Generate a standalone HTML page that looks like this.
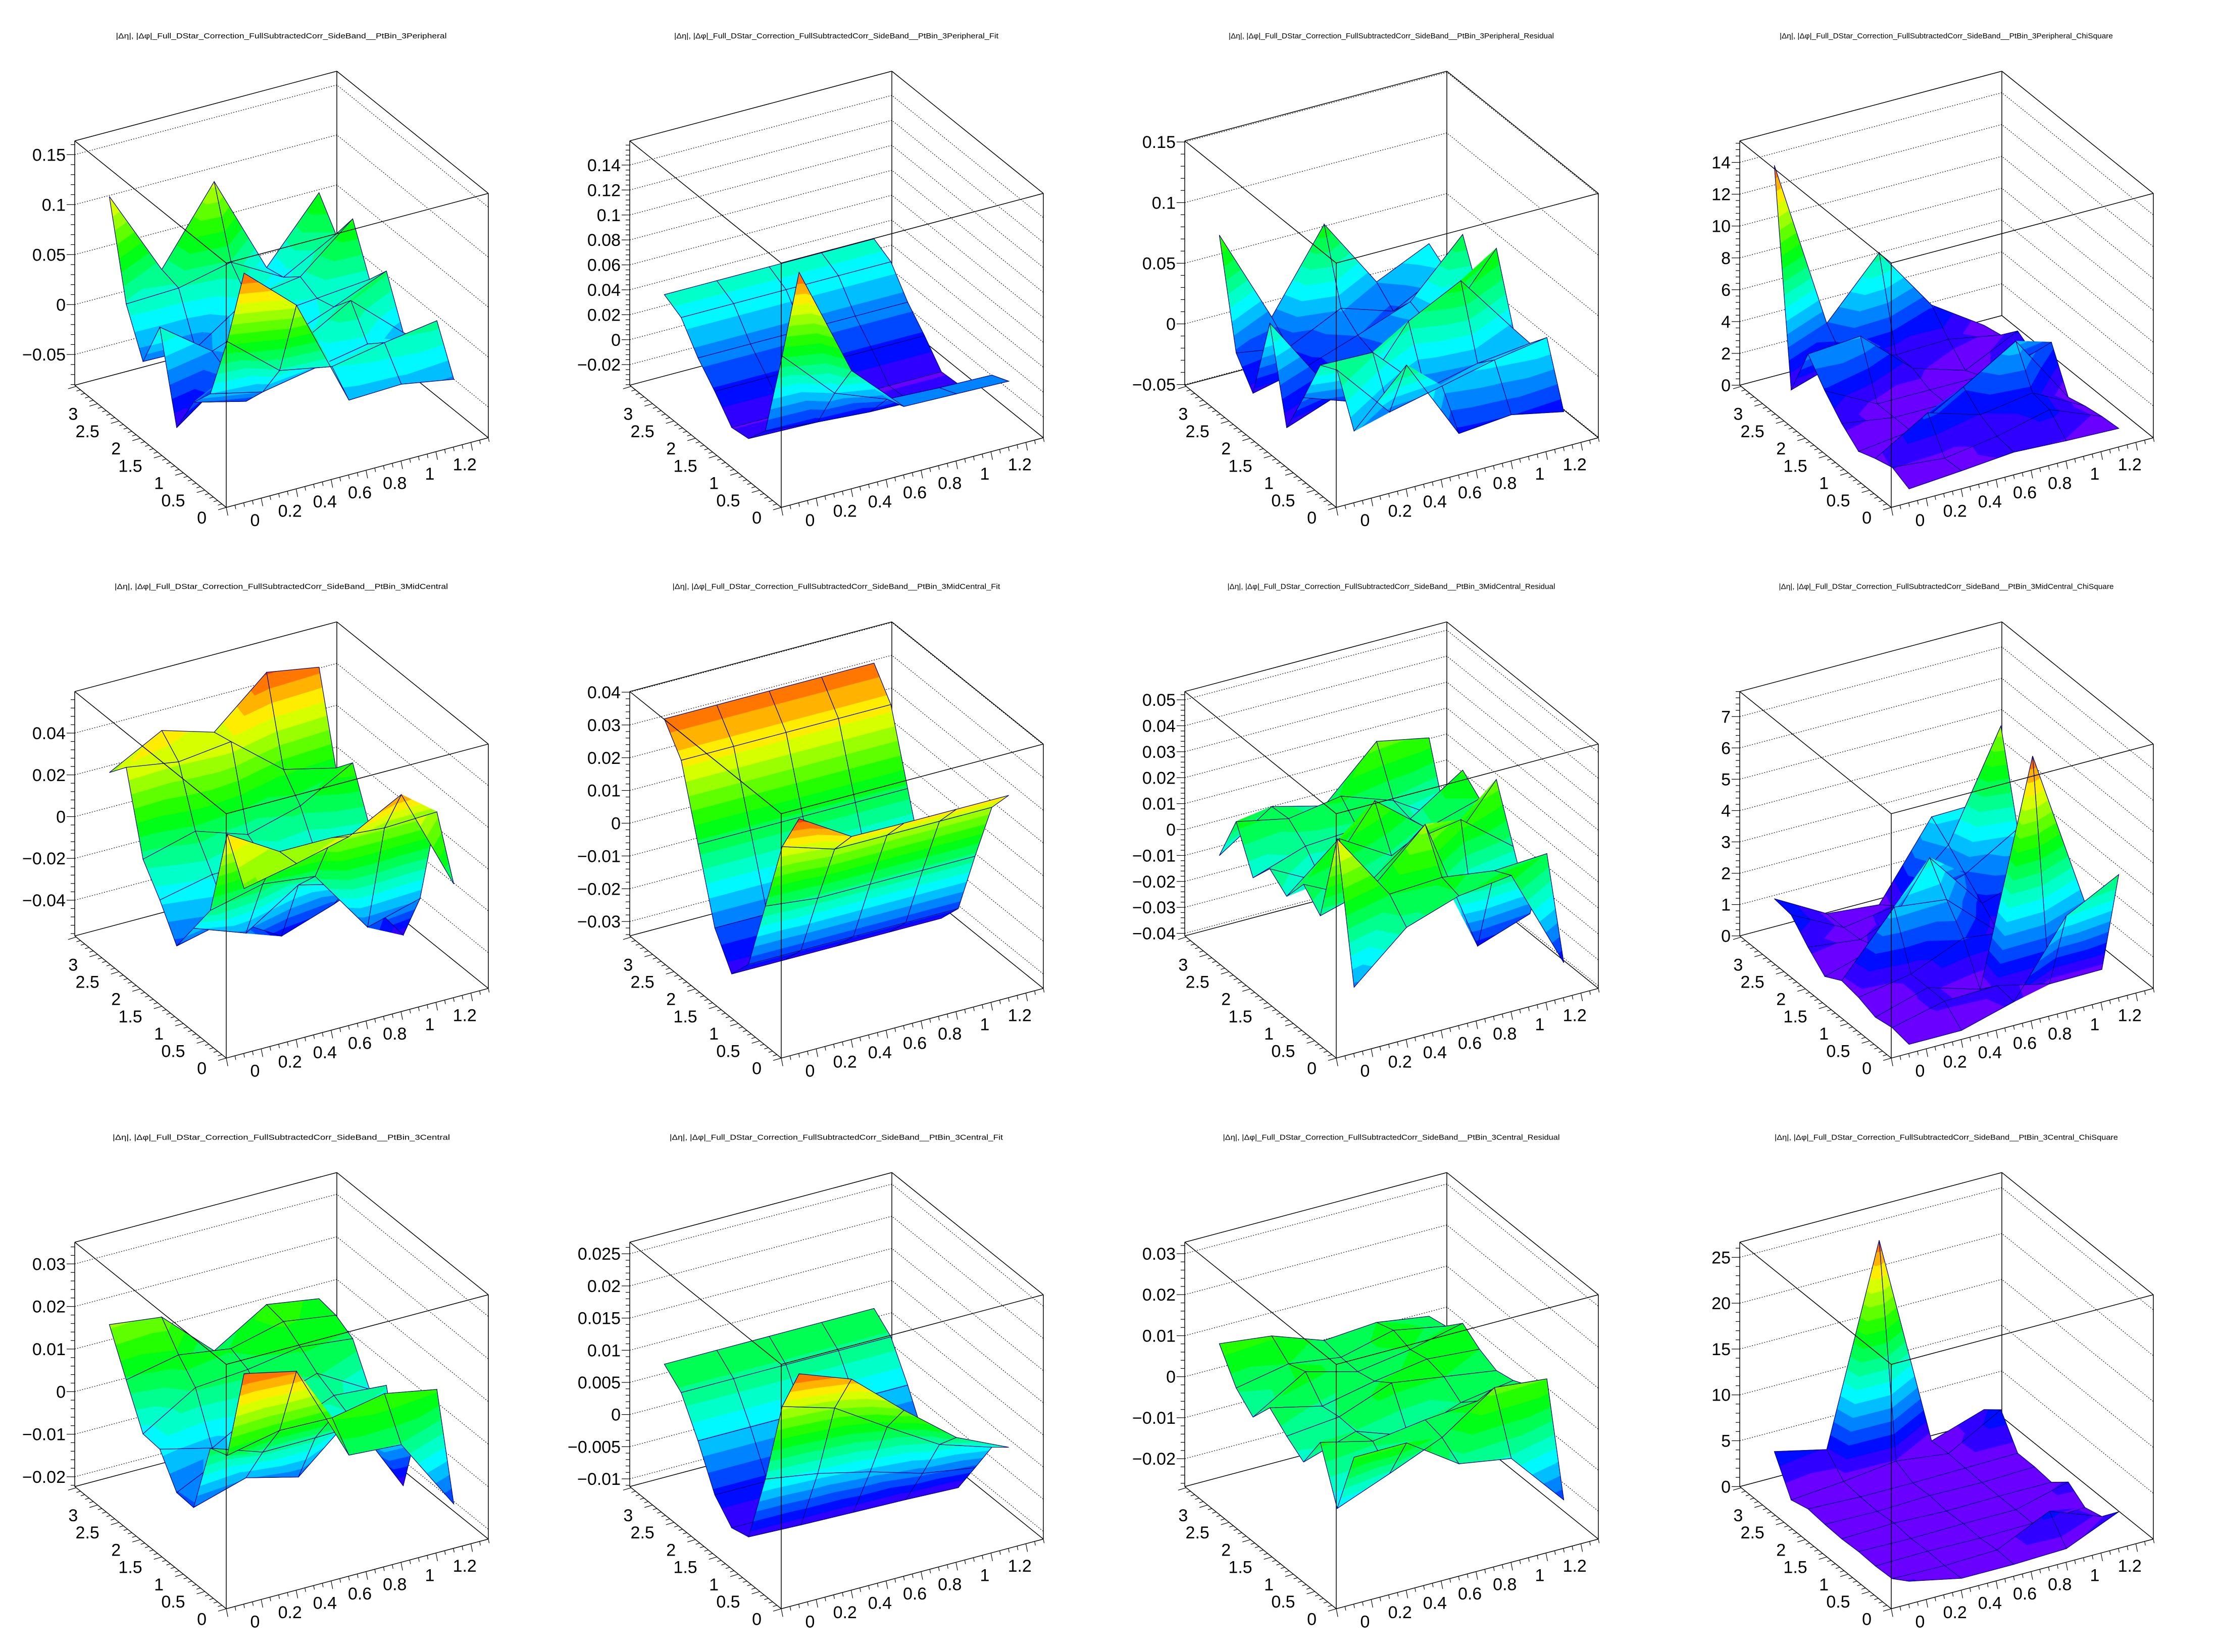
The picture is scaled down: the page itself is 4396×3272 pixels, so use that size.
<!DOCTYPE html>
<html>
<head>
<meta charset="utf-8">
<style>
html,body{margin:0;padding:0;background:#fff}
svg{display:block}
text{font-family:"Liberation Sans",sans-serif;fill:#000}
</style>
</head>
<body>
<svg id="chart" width="4396" height="3272" viewBox="0 0 4396 3272" xmlns="http://www.w3.org/2000/svg">
<rect width="4396" height="3272" fill="#ffffff"/>
</svg>
<script>
// ---------- data ----------
const xCenters=[0.15,0.45,0.75,1.05,1.35];
const yCenters=[0.196,0.589,0.982,1.374,1.767,2.160,2.553,2.945,3.338];
const xTickValues=[0,0.2,0.4,0.6,0.8,1.0,1.2];
const xTickLabels=['0','0.2','0.4','0.6','0.8','1','1.2'];
const yTickValues=[0,0.5,1,1.5,2,2.5,3];
const yTickLabels=['0','0.5','1','1.5','2','2.5','3'];
const titlePrefix='|\u0394\u03b7|, |\u0394\u03c6|_Full_DStar_Correction_FullSubtractedCorr_SideBand__PtBin_3';
const panelTitles=['Peripheral','Peripheral_Fit','Peripheral_Residual','Peripheral_ChiSquare',
 'MidCentral','MidCentral_Fit','MidCentral_Residual','MidCentral_ChiSquare',
 'Central','Central_Fit','Central_Residual','Central_ChiSquare'];
const panelZMin=[-0.0807,-0.0365,-0.0506,0,-0.0571,-0.0344,-0.041,0,-0.0223,-0.0112,-0.0268,0];
const panelZMax=[0.1638,0.1594,0.1509,15.35,0.0599,0.0402,0.0532,7.8,0.0351,0.0268,0.0328,26.65];
const panelZStep=[0.05,0.02,0.05,2,0.02,0.01,0.01,1,0.01,0.005,0.01,5];

const p1Values=[
[0.140,0.094,-0.015,-0.013,-0.022],
[0.058,0.015,0.005,0.015,0.023],
[-0.008,-0.020,-0.010,0.000,-0.010],
[-0.030,-0.043,0.000,0.030,-0.016],
[-0.069,-0.030,-0.010,0.010,0.032],
[0.018,-0.020,0.000,0.005,0.010],
[-0.030,-0.031,0.005,0.013,0.057],
[0.014,0.016,0.028,-0.001,0.028],
[0.108,0.021,0.095,-0.005,0.056]];
const p2Values=[
[0.141,0.051,0.011,0.010,0.009],
[0.063,0.022,0.006,0.004,0.003],
[-0.008,-0.012,-0.015,-0.016,-0.016],
[-0.025,-0.026,-0.026,-0.026,-0.026],
[-0.027,-0.027,-0.027,-0.027,-0.027],
[-0.009,-0.009,-0.009,-0.009,-0.009],
[0.007,0.007,0.007,0.007,0.007],
[0.0285,0.0285,0.0285,0.0285,0.0285],
[0.036,0.036,0.036,0.036,0.036]];
const p3Values=[
[0.001,0.044,-0.024,-0.020,-0.029],
[0.040,-0.006,0.004,0.014,0.021],
[0.033,0.032,-0.010,0.000,0.005],
[-0.005,-0.020,0.035,0.057,0.006],
[-0.041,-0.025,-0.010,0.010,0.061],
[0.034,-0.025,-0.015,0.000,0.010],
[-0.035,-0.025,-0.010,0.006,0.050],
[-0.013,-0.020,0.001,-0.013,0.010],
[0.073,-0.006,0.059,0.000,0.020]];
const p4Values=[
[0.3,0.56,0.86,0.7,0.6],
[0.8,0.5,1.0,1.8,0.5],
[0.5,2.5,1.5,2.0,0.3],
[0.1,0.5,2.4,4.4,0.0],
[1.0,0.5,0.5,1.5,2.6],
[2.2,0.5,0.5,0.5,0.9],
[3.65,3.9,1.0,0.0,1.6],
[0.55,1.6,1.0,1.1,0.5],
[13.8,3.0,6.56,2.4,0.25]];
const p5Values=[
[0.0175,0.0228,0.029,0.0425,-0.007],
[0.037,0.022,0.022,0.020,0.021],
[-0.006,0.000,-0.003,-0.034,-0.027],
[-0.021,-0.030,-0.0136,-0.020,-0.051],
[-0.036,-0.030,-0.0446,-0.036,-0.025],
[-0.0205,-0.015,-0.015,-0.020,-0.012],
[-0.0075,-0.0007,-0.009,-0.002,0.012],
[0.030,0.026,0.029,0.009,0.003],
[0.021,0.0345,0.027,0.049,0.0448]];
const p6Values=[
[0.0345,0.0248,0.0246,0.0246,0.0246],
[0.0218,0.0168,0.0168,0.0168,0.0168],
[-0.0005,-0.0023,-0.0023,-0.0023,-0.0023],
[-0.0224,-0.0224,-0.0224,-0.0224,-0.0224],
[-0.0295,-0.0295,-0.0295,-0.0295,-0.0295],
[-0.0196,-0.0196,-0.0196,-0.0196,-0.0196],
[0.0018,0.0018,0.0018,0.0018,0.0018],
[0.0233,0.0233,0.0233,0.0233,0.0233],
[0.0318,0.0318,0.0318,0.0318,0.0318]];
const p7Values=[
[-0.019,-0.0013,0.0055,0.008,-0.031],
[0.033,0.0063,0.0074,0.0046,0.0058],
[-0.0019,0.0038,0.0226,-0.0297,-0.0226],
[0.005,-0.005,0.0103,0.0138,-0.0019],
[-0.0049,0.012,0.000,-0.005,0.0187],
[0.0005,-0.010,0.016,0.000,0.006],
[-0.0082,-0.0014,0.000,-0.0016,0.0118],
[0.0082,0.004,0.0073,0.0002,-0.0125],
[-0.0101,0.0034,-0.0017,0.0178,0.0138]];
const p8Values=[
[0.0,0.0,0.47,2.77,3.64],
[0.1,0.5,0.55,0.16,0.18],
[0.0,0.5,0.0,7.0,1.87],
[0.2,0.5,1.2,1.0,1.0],
[0.3,2.2,2.0,0.5,0.3],
[0.0,0.5,2.9,1.0,1.5],
[0.5,0.3,1.0,1.5,2.5],
[1.1,0.25,0.5,2.0,5.35],
[1.18,0.26,0.1,2.46,2.5]];
const p9Values=[
[0.0297,0.027,0.004,0.0032,-0.014],
[0.0073,0.0099,0.0096,0.012,0.0097],
[0.0058,0.0016,0.0017,0.002,0.000],
[-0.0113,-0.0076,-0.0107,0.000,-0.0193],
[-0.011,-0.005,-0.003,0.002,0.0011],
[-0.004,-0.007,0.000,0.004,-0.003],
[-0.0036,0.004,0.005,0.007,0.0057],
[0.0059,0.0085,0.0067,0.0098,0.008],
[0.0157,0.0142,0.003,0.0106,0.0087]];
const p10Values=[
[0.0232,0.0202,0.0132,0.0068,0.0031],
[0.016,0.0136,0.0085,0.0036,0.001],
[0.0026,0.0013,-0.0006,-0.003,-0.0043],
[-0.0085,-0.0088,-0.009,-0.0092,-0.0095],
[-0.0092,-0.0092,-0.0092,-0.0092,-0.0092],
[-0.0062,-0.0062,-0.0062,-0.0062,-0.0062],
[0.0001,0.0001,0.0001,0.0001,0.0001],
[0.0055,0.0055,0.0055,0.0055,0.0055],
[0.0078,0.0078,0.0078,0.0078,0.0078]];
const p11Values=[
[0.0068,0.0069,-0.0016,-0.0037,-0.0172],
[-0.009,-0.0039,0.0015,0.0103,0.009],
[0.0038,0.0007,0.0025,0.0037,0.004],
[-0.0043,-0.0002,-0.0047,0.000,0.002],
[-0.0013,0.000,0.0049,0.003,0.0011],
[0.0023,-0.0007,0.002,0.004,0.003],
[-0.0033,0.0044,0.001,0.003,0.006],
[0.0005,0.003,0.0012,0.0044,0.002],
[0.008,0.0065,0.002,0.003,0.0011]];
const p12Values=[
[1.5,0.3,0.3,0.5,3.0],
[0.3,0.2,0.4,3.1,1.0],
[0.2,0.3,0.2,0.3,0.5],
[0.3,0.2,0.3,0.3,1.8],
[0.2,0.4,0.2,0.3,0.3],
[0.3,0.2,0.4,0.3,0.5],
[0.5,0.3,0.3,0.4,0.5],
[0.0,0.5,1.2,0.5,3.76],
[3.8,2.5,23.8,0.4,2.3]];
const panelValues=[p1Values,p2Values,p3Values,p4Values,p5Values,p6Values,p7Values,p8Values,p9Values,p10Values,p11Values,p12Values];

// ---------- geometry / style ----------
const NS='http://www.w3.org/2000/svg';
const svg=document.getElementById('chart');
const X_MAX=1.5, Y_MAX=3.534;
const FX=448, FY=1005, RXv=[519,-138], LYv=[-300,-242], HB=484;
const titleWidths=[655,642,644,660,660,649,649,663,668,660,667,680];
const NB=20;

function mk(tag,attrs,parent){const e=document.createElementNS(NS,tag);for(const k in attrs)e.setAttribute(k,attrs[k]);parent.appendChild(e);return e;}
function px(x,y){return [FX+RXv[0]*x/X_MAX+LYv[0]*y/Y_MAX, FY+RXv[1]*x/X_MAX+LYv[1]*y/Y_MAX];}
function pz(z,zmin,zmax){return HB*(z-zmin)/(zmax-zmin);}
function proj(x,y,z,zmin,zmax){const p=px(x,y);return [p[0],p[1]-pz(z,zmin,zmax)];}
function hsv(h){const hp=h/60;const x=1-Math.abs(hp%2-1);let r,g,b;
 if(hp<1){r=1;g=x;b=0}else if(hp<2){r=x;g=1;b=0}else if(hp<3){r=0;g=1;b=x}
 else if(hp<4){r=0;g=x;b=1}else if(hp<5){r=x;g=0;b=1}else{r=1;g=0;b=x}
 return 'rgb('+Math.round(r*255)+','+Math.round(g*255)+','+Math.round(b*255)+')';}
function clip(poly,lev,above){const out=[];for(let k=0;k<poly.length;k++){const P=poly[k],Q=poly[(k+1)%poly.length];
 const pin=above?P[2]>=lev:P[2]<=lev, qin=above?Q[2]>=lev:Q[2]<=lev;
 if(pin)out.push(P);
 if(pin!==qin){const t=(lev-P[2])/(Q[2]-P[2]);out.push([P[0]+t*(Q[0]-P[0]),P[1]+t*(Q[1]-P[1]),lev]);}}
 return out;}
function pts(a){return a.map(p=>p[0].toFixed(1)+','+p[1].toFixed(1)).join(' ');}
function fmt(v,step){const s=step.toString();const dec=s.indexOf('.')>=0?s.length-s.indexOf('.')-1:0;
 let r=parseFloat(v.toFixed(dec)).toString();if(Math.abs(v)<step*1e-3)r='0';return r.replace('-','\u2212');}
function line(g,a,b,w,name,extra){const e=mk('line',{x1:a[0].toFixed(1),y1:a[1].toFixed(1),x2:b[0].toFixed(1),y2:b[1].toFixed(1),stroke:'#000','stroke-width':w},g);
 if(extra)for(const k in extra)e.setAttribute(k,extra[k]);
 
 
 return e;}

function drawPanel(p){
 const col=p%4,row=Math.floor(p/4);
 const g=mk('g',{transform:'translate('+(col*1099)+','+(row*1090.67).toFixed(2)+')'},svg);
 
 
 const zmin=panelZMin[p],zmax=panelZMax[p],step=panelZStep[p],vals=panelValues[p];

 const title=mk('text',{x:557,y:76,'text-anchor':'middle','font-size':15,textLength:titleWidths[p],lengthAdjust:'spacingAndGlyphs'},g);
 title.textContent=titlePrefix+panelTitles[p];
 
 

 const F0=px(0,0),Rb=px(X_MAX,0),Lb=px(0,Y_MAX),Bb=px(X_MAX,Y_MAX);
 const up=q=>[q[0],q[1]-HB];

 const zt0=Math.ceil((zmin-1e-9)/step)*step;
 const majors=[];for(let v=zt0;v<=zmax+1e-9;v+=step)majors.push(v);
 majors.forEach(v=>{const h=pz(v,zmin,zmax);
  const e=mk('polyline',{points:pts([[Lb[0],Lb[1]-h],[Bb[0],Bb[1]-h],[Rb[0],Rb[1]-h]]),fill:'none',stroke:'#000','stroke-width':1.2,'stroke-dasharray':'2,3'},g);
  
  
 });
 line(g,Bb,up(Bb),1.5,'box-edge-back');
 line(g,Lb,Bb,1.5,'box-edge-back');
 line(g,Bb,Rb,1.5,'box-edge-back');
 line(g,up(Lb),up(Bb),1.5,'box-edge-back');
 line(g,up(Bb),up(Rb),1.5,'box-edge-back');

 // surface: colour bands over the z-axis range
 const dmin=zmin,dmax=zmax;
 const bstep=(dmax-dmin)/NB;
 const sg=mk('g',{},g);
 
 
 const quads=[];for(let j=0;j<yCenters.length-1;j++)for(let i=0;i<xCenters.length-1;i++)quads.push([i,j]);
 quads.sort((a,b)=>(b[0]+b[1])-(a[0]+a[1]));
 const V=(ii,jj)=>{const s=proj(xCenters[ii],yCenters[jj],vals[jj][ii],zmin,zmax);return [s[0],s[1],vals[jj][ii]];};
 quads.forEach(q=>{const i=q[0],j=q[1];
  const a=V(i,j),b=V(i+1,j),c=V(i+1,j+1),d=V(i,j+1);
  const qg=mk('g',{},sg);
  
  
  [[a,b,c],[a,c,d]].forEach(tri=>{
   const tmin=Math.min(tri[0][2],tri[1][2],tri[2][2]),tmax=Math.max(tri[0][2],tri[1][2],tri[2][2]);
   for(let k=0;k<NB;k++){
    const lo=dmin+k*bstep,hi=lo+bstep;
    if(k>0&&tmax<lo)continue; if(k<NB-1&&tmin>hi)continue;
    let poly=tri;
    if(k>0)poly=clip(poly,lo,true); if(poly.length<3)continue;
    if(k<NB-1)poly=clip(poly,hi,false); if(poly.length<3)continue;
    const c2=hsv(265*(1-k/(NB-1)));
    const e=mk('polygon',{points:pts(poly),fill:c2,stroke:c2,'stroke-width':1,'stroke-linejoin':'round'},qg);
    
    
   }
  });
  const o=mk('polygon',{points:pts([a,b,c,d]),fill:'none',stroke:'#000080','stroke-width':1.2},qg);
  
  
 });

 line(g,F0,up(F0),1.5,'box-edge-front');
 line(g,up(F0),up(Lb),1.5,'box-edge-front');
 line(g,up(F0),up(Rb),1.5,'box-edge-front');
 line(g,Lb,up(Lb),1.5,'z-axis-line');
 line(g,Rb,up(Rb),1.5,'box-edge-front');
 line(g,F0,Lb,1.5,'y-axis-line');
 line(g,F0,Rb,1.5,'x-axis-line');

 const minor=step/5;
 for(let v=Math.ceil((zmin-1e-9)/minor)*minor;v<=zmax+1e-9;v+=minor){
  const y=Lb[1]-pz(v,zmin,zmax);
  const isMaj=Math.abs(v/step-Math.round(v/step))<1e-6;
  line(g,[Lb[0]-(isMaj?16:8),y],[Lb[0],y],1.2,isMaj?'z-major-tick':'z-minor-tick');
 }
 majors.forEach(v=>{const y=Lb[1]-pz(v,zmin,zmax);
  const t=mk('text',{x:130,y:(y+12).toFixed(1),'text-anchor':'end','font-size':34},g);
  t.textContent=fmt(v,step);
  
  
 });

 for(let k=0;k<=30;k++){const v=k*0.05;const a=px(v,0);const isMaj=(k%4===0);const L=isMaj?16:8;
  line(g,a,[a[0]+0.2*L,a[1]+L],1.2,isMaj?'x-major-tick':'x-minor-tick');}
 xTickValues.forEach((v,k)=>{const a=px(v,0);
  const t=mk('text',{x:(a[0]+57).toFixed(1),y:(a[1]+37).toFixed(1),'text-anchor':'middle','font-size':34},g);
  t.textContent=xTickLabels[k];
  
  
 });
 for(let k=0;k<=35;k++){const v=k*0.1;const a=px(0,v);const isMaj=(k%5===0);const L=isMaj?16:8;
  line(g,a,[a[0]-L,a[1]+0.3*L],1.2,isMaj?'y-major-tick':'y-minor-tick');}
 yTickValues.forEach((v,k)=>{const a=px(0,v);
  const t=mk('text',{x:(a[0]-39).toFixed(1),y:(a[1]+32).toFixed(1),'text-anchor':'end','font-size':34},g);
  t.textContent=yTickLabels[k];
  
  
 });
}
for(let p=0;p<12;p++)drawPanel(p);
</script>
</body>
</html>
